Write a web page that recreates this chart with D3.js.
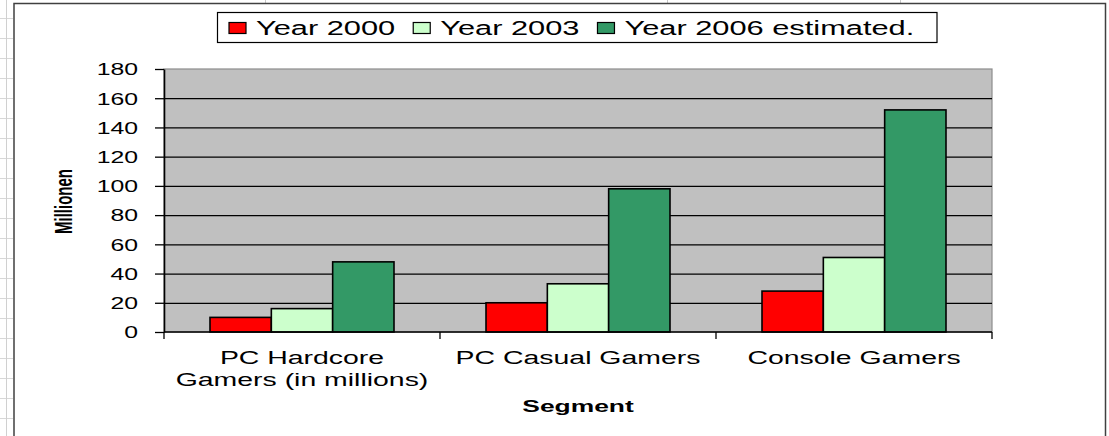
<!DOCTYPE html>
<html>
<head>
<meta charset="utf-8">
<script src="https://cdn.jsdelivr.net/npm/d3@7"></script>
<style>
  html, body { margin: 0; padding: 0; background: #fff; }
  svg { display: block; }
  text { font-family: "Liberation Sans", Arial, sans-serif; fill: #000; }
</style>
</head>
<body>
<svg id="chart" width="1109" height="436"></svg>
<script>
// ---- data ----
const categories = ["PC Hardcore Gamers (in millions)", "PC Casual Gamers", "Console Gamers"];
const seriesNames = ["Year 2000", "Year 2003", "Year 2006 estimated."];
const year2000 = [10, 20, 28];
const year2003 = [16, 33, 51];
const year2006 = [48, 98, 152];
const yTicks = [0, 20, 40, 60, 80, 100, 120, 140, 160, 180];
const seriesColors = ["#ff0000", "#ccffcc", "#339966"];
const yTitle = "Millionen";
const xTitle = "Segment";

const seriesValues = [year2000, year2003, year2006];
const table = categories.map((c, i) => ({
  category: c,
  values: seriesNames.map((s, j) => ({ series: s, value: seriesValues[j][i], color: seriesColors[j] }))
}));

const svg = d3.select("#chart");
const W = 1109, H = 436;

// ---- spreadsheet backdrop ----
const deco = svg.append("g");
for (let y = 18; y < H; y += 20) {
  deco.append("line").attr("x1", 0).attr("x2", 13).attr("y1", y + 0.5).attr("y2", y + 0.5)
    .attr("stroke", "#d8d8d8");
}
deco.append("line").attr("x1", 6.5).attr("x2", 6.5).attr("y1", 0).attr("y2", H).attr("stroke", "#d0d0d0");
[265, 667, 900].forEach(x => deco.append("line").attr("x1", x + 0.5).attr("x2", x + 0.5)
  .attr("y1", 0).attr("y2", 3).attr("stroke", "#c8c8c8"));
// chart area border
svg.append("path").attr("d", `M14,${H + 2} V3.5 H1105.5 V${H + 2}`)
  .attr("fill", "none").attr("stroke", "#404040").attr("stroke-width", 1.5);

// ---- plot geometry ----
const plot = { left: 164, top: 69, right: 992, bottom: 332 };
const pw = plot.right - plot.left, ph = plot.bottom - plot.top;

const x0 = d3.scaleBand().domain(categories).range([plot.left, plot.right]).paddingInner(0).paddingOuter(0);
const x1 = d3.scaleBand().domain(seriesNames).range([0, x0.bandwidth()]).paddingInner(0).paddingOuter(0.75);
const y = d3.scaleLinear().domain([0, 180]).range([plot.bottom, plot.top]);

// plot area
svg.append("rect").attr("x", plot.left).attr("y", plot.top).attr("width", pw).attr("height", ph)
  .attr("fill", "#c0c0c0").attr("stroke", "#8c8c8c").attr("stroke-width", 1.2);

// gridlines
const grid = svg.append("g").attr("transform", `translate(${plot.left},0)`)
  .call(d3.axisLeft(y).tickValues(yTicks.filter(v => v > 0 && v < 180)).tickSize(-pw).tickFormat(""));
grid.select(".domain").remove();
grid.selectAll("line").attr("stroke", "#000").attr("stroke-width", 1.3);

// bars
const groups = svg.append("g").selectAll("g").data(table).join("g")
  .attr("transform", d => `translate(${x0(d.category)},0)`);
groups.selectAll("rect").data(d => d.values).join("rect")
  .attr("x", d => x1(d.series))
  .attr("width", x1.bandwidth())
  .attr("y", d => y(d.value))
  .attr("height", d => y(0) - y(d.value))
  .attr("fill", d => d.color)
  .attr("stroke", "#000").attr("stroke-width", 1.6);

// y axis
const SX = 1.55;
const yAxis = svg.append("g").attr("transform", `translate(${plot.left},0)`)
  .call(d3.axisLeft(y).tickValues(yTicks).tickSize(9).tickSizeOuter(0).tickFormat(d3.format("d")));
yAxis.select(".domain").attr("stroke", "#000").attr("stroke-width", 1.6);
yAxis.selectAll(".tick line").attr("stroke", "#000").attr("stroke-width", 1.3);
yAxis.selectAll(".tick text")
  .attr("x", 0).attr("dy", null).attr("y", 0)
  .attr("transform", `translate(-26,5.8) scale(${SX},1)`)
  .attr("text-anchor", "end")
  .style("font-family", "'Liberation Sans', Arial, sans-serif")
  .style("font-size", "16px").attr("fill", "#1a1a1a");

// x axis
const xAxis = svg.append("g").attr("transform", `translate(0,${plot.bottom})`);
xAxis.append("line").attr("x1", plot.left).attr("x2", plot.right).attr("y1", 0).attr("y2", 0)
  .attr("stroke", "#000").attr("stroke-width", 1.6);
const bounds = categories.map(c => x0(c)).concat([x0(categories[categories.length - 1]) + x0.bandwidth()]);
xAxis.selectAll(".btick").data(bounds).join("line").attr("class", "btick")
  .attr("x1", d => d).attr("x2", d => d).attr("y1", 0).attr("y2", 7)
  .attr("stroke", "#000").attr("stroke-width", 1.3);

// category labels (wrapped to band width)
const CSX = 1.58, CFS = 18;
categories.forEach(c => {
  const cx = x0(c) + x0.bandwidth() / 2;
  const t = svg.append("text").attr("text-anchor", "middle").style("font-size", CFS + "px")
    .attr("fill", "#1a1a1a")
    .attr("transform", `translate(${cx},364) scale(${CSX},1)`);
  const words = c.split(" ");
  let line = [], lineNo = 0;
  let ts = t.append("tspan").attr("x", 0).attr("y", 0);
  words.forEach(w => {
    line.push(w);
    ts.text(line.join(" "));
    if (ts.node().getComputedTextLength() * CSX > x0.bandwidth() - 20 && line.length > 1) {
      line.pop();
      ts.text(line.join(" "));
      line = [w];
      lineNo++;
      ts = t.append("tspan").attr("x", 0).attr("y", lineNo * 22).text(w);
    }
  });
});

// axis titles
svg.append("text").text(xTitle).attr("text-anchor", "middle")
  .style("font-size", "16px").style("font-weight", "bold")
  .attr("transform", `translate(${(plot.left + plot.right) / 2},412) scale(1.65,1)`);
svg.append("text").text(yTitle).attr("text-anchor", "middle")
  .style("font-size", "15px").style("font-weight", "bold")
  .attr("transform", `translate(72,${(plot.top + plot.bottom) / 2 + 1}) scale(1.6,1) rotate(-90)`);

// legend
const LSX = 1.54;
const legend = svg.append("g");
legend.append("rect").attr("x", 217.5).attr("y", 12.5).attr("width", 719.5).attr("height", 30)
  .attr("fill", "#fff").attr("stroke", "#000").attr("stroke-width", 1.2);
let lx = 229;
seriesNames.forEach((s, i) => {
  legend.append("rect").attr("x", lx).attr("y", 22.5).attr("width", 17).attr("height", 11)
    .attr("fill", seriesColors[i]).attr("stroke", "#000").attr("stroke-width", 1.2);
  const t = legend.append("text").text(s).style("font-size", "20px").attr("fill", "#1a1a1a")
    .attr("transform", `translate(${lx + 27},34.5) scale(${LSX},1)`);
  const w = t.node().getComputedTextLength() * LSX;
  lx = lx + 27 + w + 18;
});
</script>
</body>
</html>
